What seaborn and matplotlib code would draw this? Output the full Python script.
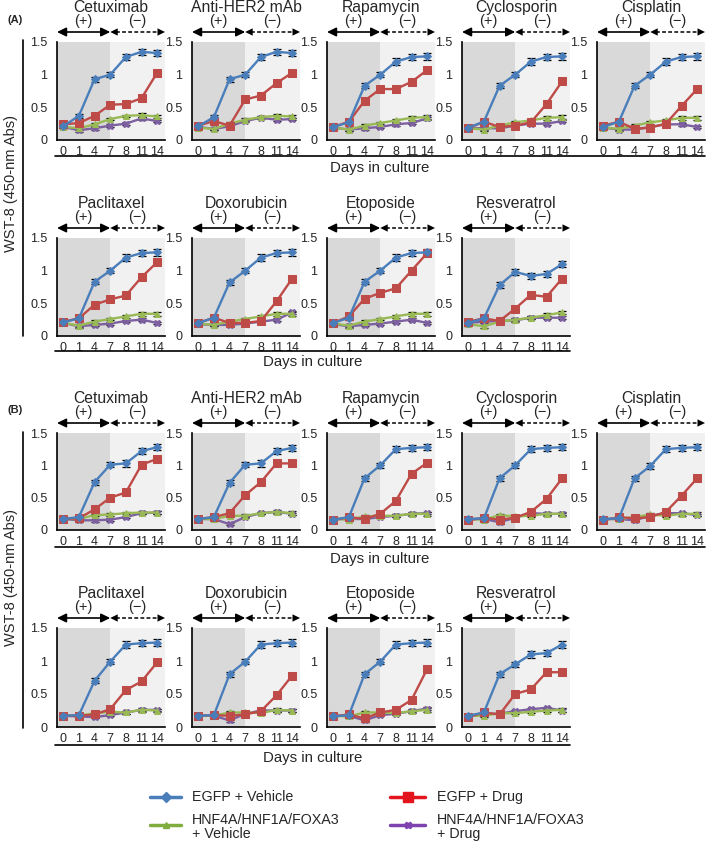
import numpy as np
import pandas as pd
import matplotlib
matplotlib.use('Agg')
import matplotlib.pyplot as plt
import seaborn as sns
from matplotlib.lines import Line2D

sns.set_theme(style='white')
plt.rcParams['font.family'] = ['Liberation Sans', 'DejaVu Sans']

days = ['0', '1', '4', '7', '8', '11', '14']
drugs = ['Cetuximab', 'Anti-HER2 mAb', 'Rapamycin', 'Cyclosporin', 'Cisplatin',
         'Paclitaxel', 'Doxorubicin', 'Etoposide', 'Resveratrol']
series = ['EGFP + Vehicle', 'EGFP + Drug',
          'HNF4A/HNF1A/FOXA3\n+ Vehicle', 'HNF4A/HNF1A/FOXA3\n+ Drug']
colors = ['#4a7ebb', '#be4b48', '#98b954', '#7d60a0']
legend_colors = ['#4a7ebb', '#e3141b', '#7fae3e', '#7d44b0']
markers = ['D', 's', '^', 'X']

# ---- Panel A values (per drug) ----
A_egfp_vehicle = [
    [0.21, 0.37, 0.93, 1.00, 1.27, 1.35, 1.33],
    [0.21, 0.35, 0.93, 1.00, 1.27, 1.35, 1.33],
    [0.20, 0.27, 0.83, 1.00, 1.20, 1.27, 1.28],
    [0.19, 0.28, 0.83, 1.00, 1.20, 1.27, 1.28],
    [0.20, 0.28, 0.83, 1.00, 1.20, 1.27, 1.28],
    [0.21, 0.27, 0.83, 1.00, 1.20, 1.27, 1.28],
    [0.20, 0.28, 0.82, 1.00, 1.20, 1.27, 1.28],
    [0.20, 0.28, 0.83, 1.00, 1.20, 1.27, 1.28],
    [0.20, 0.27, 0.78, 0.98, 0.92, 0.95, 1.10],
]
A_egfp_drug = [
    [0.24, 0.26, 0.37, 0.54, 0.55, 0.64, 1.03],
    [0.22, 0.29, 0.22, 0.62, 0.68, 0.87, 1.03],
    [0.20, 0.28, 0.60, 0.78, 0.78, 0.89, 1.07],
    [0.18, 0.28, 0.20, 0.22, 0.27, 0.55, 0.90],
    [0.22, 0.28, 0.17, 0.19, 0.25, 0.52, 0.78],
    [0.22, 0.27, 0.48, 0.56, 0.62, 0.90, 1.13],
    [0.20, 0.28, 0.20, 0.20, 0.23, 0.53, 0.88],
    [0.20, 0.30, 0.57, 0.66, 0.73, 1.00, 1.27],
    [0.22, 0.27, 0.23, 0.42, 0.63, 0.60, 0.88],
]
A_hnf_vehicle = [
    [0.20, 0.18, 0.24, 0.32, 0.37, 0.38, 0.36],
    [0.19, 0.17, 0.25, 0.31, 0.35, 0.37, 0.36],
    [0.19, 0.16, 0.22, 0.26, 0.30, 0.34, 0.35],
    [0.18, 0.16, 0.22, 0.27, 0.30, 0.34, 0.35],
    [0.19, 0.17, 0.22, 0.27, 0.30, 0.34, 0.34],
    [0.20, 0.16, 0.22, 0.26, 0.30, 0.34, 0.34],
    [0.19, 0.17, 0.22, 0.26, 0.30, 0.34, 0.34],
    [0.19, 0.16, 0.22, 0.26, 0.30, 0.34, 0.34],
    [0.18, 0.15, 0.22, 0.25, 0.28, 0.32, 0.36],
]
A_hnf_drug = [
    [0.20, 0.15, 0.18, 0.22, 0.25, 0.33, 0.29],
    [0.20, 0.17, 0.21, 0.29, 0.34, 0.31, 0.32],
    [0.19, 0.16, 0.18, 0.20, 0.24, 0.26, 0.33],
    [0.18, 0.18, 0.18, 0.22, 0.25, 0.25, 0.29],
    [0.19, 0.16, 0.16, 0.20, 0.24, 0.24, 0.20],
    [0.20, 0.15, 0.17, 0.19, 0.23, 0.25, 0.20],
    [0.18, 0.17, 0.17, 0.19, 0.22, 0.25, 0.36],
    [0.18, 0.15, 0.17, 0.19, 0.22, 0.25, 0.20],
    [0.20, 0.22, 0.23, 0.24, 0.28, 0.28, 0.28],
]

# ---- Panel B values (per drug) ----
B_egfp_vehicle = [
    [0.17, 0.20, 0.74, 1.01, 1.03, 1.22, 1.28],
    [0.17, 0.20, 0.73, 1.01, 1.03, 1.22, 1.27],
    [0.16, 0.20, 0.80, 1.00, 1.25, 1.27, 1.28],
    [0.17, 0.18, 0.80, 1.00, 1.25, 1.27, 1.28],
    [0.17, 0.18, 0.80, 0.99, 1.25, 1.27, 1.28],
    [0.17, 0.18, 0.70, 0.99, 1.25, 1.27, 1.28],
    [0.17, 0.18, 0.80, 0.99, 1.25, 1.27, 1.28],
    [0.16, 0.18, 0.80, 0.99, 1.25, 1.27, 1.28],
    [0.17, 0.22, 0.80, 0.95, 1.10, 1.12, 1.25],
]
B_egfp_drug = [
    [0.17, 0.18, 0.32, 0.50, 0.58, 1.01, 1.10],
    [0.17, 0.20, 0.26, 0.54, 0.74, 1.03, 1.03],
    [0.15, 0.20, 0.17, 0.25, 0.45, 0.87, 1.04],
    [0.15, 0.19, 0.16, 0.19, 0.28, 0.48, 0.80],
    [0.15, 0.20, 0.18, 0.20, 0.28, 0.53, 0.80],
    [0.17, 0.17, 0.19, 0.27, 0.56, 0.69, 0.98],
    [0.17, 0.18, 0.17, 0.19, 0.24, 0.48, 0.78],
    [0.16, 0.19, 0.13, 0.22, 0.26, 0.41, 0.88],
    [0.15, 0.22, 0.19, 0.50, 0.57, 0.83, 0.83],
]
B_hnf_vehicle = [
    [0.17, 0.17, 0.23, 0.24, 0.26, 0.27, 0.27],
    [0.17, 0.17, 0.22, 0.22, 0.26, 0.28, 0.26],
    [0.17, 0.16, 0.21, 0.22, 0.22, 0.25, 0.25],
    [0.17, 0.16, 0.23, 0.21, 0.22, 0.25, 0.25],
    [0.17, 0.17, 0.20, 0.24, 0.22, 0.25, 0.25],
    [0.17, 0.17, 0.21, 0.23, 0.22, 0.26, 0.25],
    [0.17, 0.17, 0.22, 0.22, 0.21, 0.26, 0.25],
    [0.17, 0.16, 0.22, 0.22, 0.21, 0.24, 0.26],
    [0.17, 0.17, 0.21, 0.21, 0.23, 0.25, 0.26],
]
B_hnf_drug = [
    [0.17, 0.15, 0.15, 0.16, 0.20, 0.26, 0.27],
    [0.17, 0.17, 0.09, 0.20, 0.26, 0.28, 0.25],
    [0.17, 0.17, 0.17, 0.20, 0.22, 0.25, 0.26],
    [0.17, 0.17, 0.12, 0.19, 0.26, 0.25, 0.25],
    [0.17, 0.17, 0.15, 0.22, 0.26, 0.26, 0.23],
    [0.17, 0.16, 0.15, 0.18, 0.22, 0.26, 0.26],
    [0.17, 0.17, 0.10, 0.20, 0.25, 0.25, 0.25],
    [0.17, 0.17, 0.10, 0.18, 0.20, 0.24, 0.28],
    [0.17, 0.20, 0.20, 0.24, 0.27, 0.29, 0.25],
]

# error bar half-widths per series
err_egfp_vehicle = [0.02, 0.03, 0.04, 0.04, 0.05, 0.05, 0.05]
err_egfp_drug = [0.02, 0.03, 0.03, 0.03, 0.03, 0.04, 0.04]
err_hnf_vehicle = [0.02, 0.02, 0.02, 0.02, 0.02, 0.03, 0.03]
err_hnf_drug = [0.02, 0.02, 0.02, 0.02, 0.02, 0.02, 0.02]

y_ticks = [0, 0.5, 1, 1.5]
y_tick_labels = ['0', '0.5', '1', '1.5']

W, H = 709, 842
fig = plt.figure(figsize=(W / 100, H / 100), dpi=100)


def fx(x):
    return x / W


def fy(y):
    return 1 - y / H


col_left = [57, 192, 327, 462, 597]
ax_w = 108
rows = [(42, 140), (238, 336), (433, 530), (628, 727)]
pos = np.arange(len(days))
XL, XR, XB = -0.4, 6.5, 3.0


def draw_panel(ax, title, vals_list, errs):
    ax.axvspan(XL, XB, color='#d9d9d9', zorder=0, lw=0)
    ax.axvspan(XB, XR, color='#f1f1f1', zorder=0, lw=0)
    recs = []
    for s, v in zip(series, vals_list):
        for p, val in zip(pos, v):
            recs.append({'pos': p, 'val': val, 'series': s})
    df = pd.DataFrame(recs)
    order = [2, 3, 1, 0]
    for i in order:
        sub = df[df['series'] == series[i]]
        ax.errorbar(pos, vals_list[i], yerr=errs[i], fmt='none', ecolor='black',
                    elinewidth=0.8, capsize=3, capthick=0.9, zorder=3 + i * 0.01)
        sns.lineplot(data=sub, x='pos', y='val', ax=ax, color=colors[i],
                     marker=markers[i], markersize=4.5 if i != 1 else 5.5,
                     markeredgecolor=colors[i], linewidth=1.7, legend=False,
                     zorder=4 - i * 0.1)
    ax.set_xlim(XL, XR)
    ax.set_ylim(0, 1.5)
    ax.set_xticks(pos)
    ax.set_xticklabels(days)
    ax.set_xticks(pos[:-1] + 0.5, minor=True)
    ax.set_yticks(y_ticks)
    ax.set_yticklabels(y_tick_labels)
    ax.set_xlabel('')
    ax.set_ylabel('')
    for sp in ['top', 'right']:
        ax.spines[sp].set_visible(False)
    for sp in ['left', 'bottom']:
        ax.spines[sp].set_color('black')
        ax.spines[sp].set_linewidth(1.2)
    ax.tick_params(axis='x', which='major', length=0, pad=4, labelsize=9)
    ax.tick_params(axis='x', which='minor', length=2.5, direction='in', color='#666666', width=0.6)
    ax.tick_params(axis='y', which='major', length=0, pad=7, labelsize=9)
    h_ax = ax.bbox.height
    tr = ax.get_xaxis_transform()
    ay = 1 + 10 / h_ax
    ax.annotate('', xy=(XB, ay), xytext=(XL, ay), xycoords=tr, textcoords=tr,
                arrowprops=dict(arrowstyle='<|-|>,head_length=0.45,head_width=0.22',
                                color='black', lw=1.2, shrinkA=0, shrinkB=0),
                annotation_clip=False)
    ax.plot([XB + 0.35, XR - 0.35], [ay, ay], transform=tr, color='black', lw=1.1,
            ls=(0, (2.5, 1.5)), clip_on=False)
    ax.annotate('', xy=(XR, ay), xytext=(XB, ay), xycoords=tr, textcoords=tr,
                arrowprops=dict(arrowstyle='<|-|>,head_length=0.45,head_width=0.22',
                                color='black', lw=0, shrinkA=0, shrinkB=0),
                annotation_clip=False)
    ax.text((XL + XB) / 2, 1 + 21 / h_ax, '(+)', transform=tr, ha='center', va='center', fontsize=10.5)
    ax.text((XB + XR) / 2, 1 + 21 / h_ax, '(\u2212)', transform=tr, ha='center', va='center', fontsize=10.5)
    ax.text((XL + XR) / 2, 1 + 34.5 / h_ax, title, transform=tr, ha='center', va='center', fontsize=11.3)


groups = [
    (A_egfp_vehicle, A_egfp_drug, A_hnf_vehicle, A_hnf_drug),
    (B_egfp_vehicle, B_egfp_drug, B_hnf_vehicle, B_hnf_drug),
]
errs = [err_egfp_vehicle, err_egfp_drug, err_hnf_vehicle, err_hnf_drug]

for g, grp in enumerate(groups):
    for d, drug in enumerate(drugs):
        r = g * 2 + (0 if d < 5 else 1)
        c = d if d < 5 else d - 5
        top, bot = rows[r]
        ax = fig.add_axes([fx(col_left[c]), fy(bot), fx(ax_w), (bot - top) / H])
        vals = [grp[k][d] for k in range(4)]
        draw_panel(ax, drug, vals, errs)

sep = [(156, 705, 380, 168), (351, 570, 313, 362), (547, 705, 380, 559), (745, 570, 313, 758)]
for (yl, xr, xt, yt) in sep:
    fig.add_artist(Line2D([fx(55), fx(xr)], [fy(yl), fy(yl)], color='black', lw=1.2,
                          transform=fig.transFigure))
    fig.text(fx(xt), fy(yt), 'Days in culture', ha='center', va='center', fontsize=10.8)

for (y0, y1, yc) in [(40, 336, 184), (432, 728, 578)]:
    fig.add_artist(Line2D([fx(23), fx(23)], [fy(y0), fy(y1)], color='black', lw=1.2,
                          transform=fig.transFigure))
    fig.text(fx(11), fy(yc), 'WST-8 (450-nm Abs)', rotation=90, ha='center', va='center', fontsize=10.5)

fig.text(fx(8), fy(20), '(A)', fontsize=8, fontweight='bold', ha='left', va='center')
fig.text(fx(8), fy(410), '(B)', fontsize=8, fontweight='bold', ha='left', va='center')

leg = [
    (150, 181, 797, 192, 797, 0),
    (390, 425, 797, 437, 797, 1),
    (150, 181, 825, 192, 827, 2),
    (390, 425, 825, 437, 827, 3),
]
for (x0, x1, yl, xt, yt, i) in leg:
    xm = (x0 + x1) / 2
    fig.add_artist(Line2D([fx(x0), fx(xm), fx(x1)], [fy(yl)] * 3, color=legend_colors[i], lw=2.5,
                          marker=markers[i], markevery=[1], markersize=5 if i != 1 else 7,
                          markeredgecolor=legend_colors[i], transform=fig.transFigure))
    fig.text(fx(xt), fy(yt), series[i], ha='left', va='center', fontsize=10.3, linespacing=1.0)

fig.savefig('out.png', dpi=100)
